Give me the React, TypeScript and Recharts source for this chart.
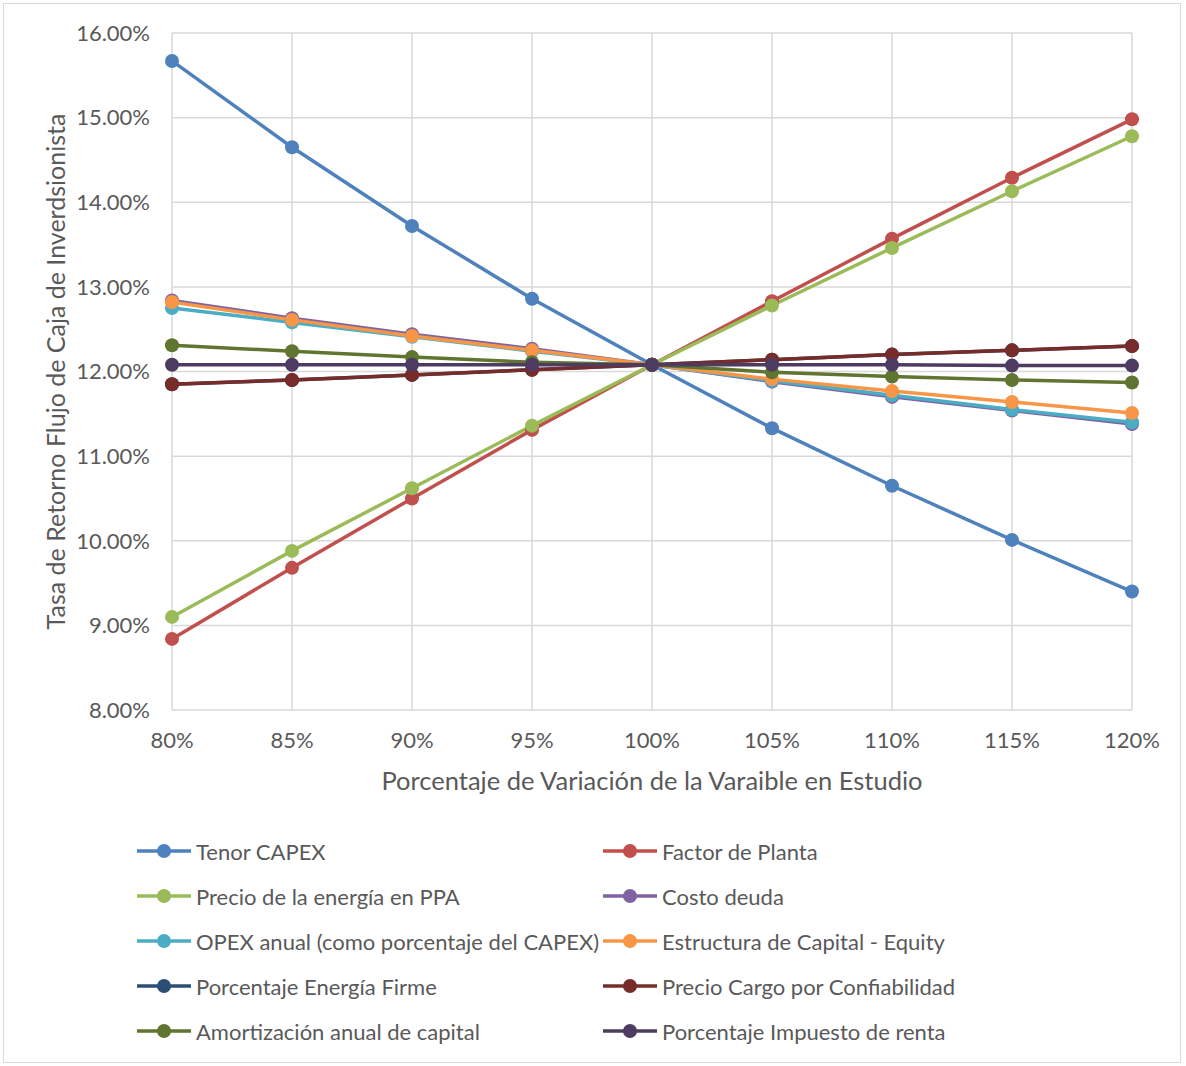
import { CartesianGrid, Label, Legend, Line, LineChart, XAxis, YAxis } from 'recharts'

// Variación porcentual de cada variable en estudio
const categories = ['80%', '85%', '90%', '95%', '100%', '105%', '110%', '115%', '120%']

const tenorCapex = [15.67, 14.65, 13.72, 12.86, 12.08, 11.33, 10.65, 10.01, 9.4]
const factorPlanta = [8.84, 9.68, 10.5, 11.31, 12.08, 12.83, 13.57, 14.29, 14.98]
const precioPPA = [9.1, 9.88, 10.62, 11.36, 12.08, 12.78, 13.46, 14.13, 14.78]
const costoDeuda = [12.84, 12.63, 12.44, 12.27, 12.08, 11.88, 11.7, 11.54, 11.38]
const opexAnual = [12.75, 12.58, 12.41, 12.24, 12.08, 11.89, 11.72, 11.55, 11.4]
const estructuraCapital = [12.82, 12.61, 12.42, 12.25, 12.08, 11.91, 11.77, 11.64, 11.51]
const energiaFirme = [11.85, 11.9, 11.96, 12.02, 12.08, 12.14, 12.2, 12.25, 12.3]
const cargoConfiabilidad = [11.85, 11.9, 11.96, 12.02, 12.08, 12.14, 12.2, 12.25, 12.3]
const amortizacion = [12.31, 12.24, 12.17, 12.11, 12.08, 11.99, 11.94, 11.9, 11.87]
const impuestoRenta = [12.08, 12.08, 12.08, 12.08, 12.08, 12.08, 12.08, 12.07, 12.07]

const yTicks = [8, 9, 10, 11, 12, 13, 14, 15, 16]

const series = [
  { key: 'tenor', name: 'Tenor CAPEX', color: '#4F81BD', values: tenorCapex },
  { key: 'factor', name: 'Factor de Planta', color: '#C0504D', values: factorPlanta },
  { key: 'ppa', name: 'Precio de la energía en PPA', color: '#9BBB59', values: precioPPA },
  { key: 'deuda', name: 'Costo deuda', color: '#8064A2', values: costoDeuda },
  { key: 'opex', name: 'OPEX anual (como porcentaje del CAPEX)', color: '#4BACC6', values: opexAnual },
  { key: 'equity', name: 'Estructura de Capital - Equity', color: '#F79646', values: estructuraCapital },
  { key: 'firme', name: 'Porcentaje Energía Firme', color: '#2C4D75', values: energiaFirme },
  { key: 'cargo', name: 'Precio Cargo por Confiabilidad', color: '#772C2A', values: cargoConfiabilidad },
  { key: 'amort', name: 'Amortización anual de capital', color: '#5F7530', values: amortizacion },
  { key: 'renta', name: 'Porcentaje Impuesto de renta', color: '#4D3B62', values: impuestoRenta },
]

const data = categories.map((cat, i) => {
  const row: Record<string, string | number> = { cat }
  series.forEach((s) => {
    row[s.key] = s.values[i]
  })
  return row
})

const FONT = 'Lato, "Open Sans", sans-serif'
const TEXT = '#595959'

const LegendGrid = () => (
  <div style={{ position: 'relative', width: 1176, height: 272, fontFamily: FONT }}>
    {series.map((s, i) => {
      const col = i % 2
      const row = Math.floor(i / 2)
      return (
        <div
          key={s.key}
          style={{
            position: 'absolute',
            left: col === 0 ? 133 : 599,
            top: 61 + row * 45 - 15,
            height: 30,
            display: 'flex',
            alignItems: 'center',
            whiteSpace: 'nowrap',
          }}
        >
          <svg width={54} height={16} style={{ marginRight: 5 }}>
            <line x1={0} y1={8} x2={54} y2={8} stroke={s.color} strokeWidth={3.5} />
            <circle cx={27} cy={8} r={7} fill={s.color} />
          </svg>
          <span style={{ fontSize: 22, color: TEXT }}>{s.name}</span>
        </div>
      )
    })}
  </div>
)

export default function App() {
  return (
    <div
      style={{
        position: 'absolute',
        left: 3,
        top: 3,
        width: 1176,
        height: 1058,
        border: '1px solid #d9d9d9',
        background: '#fff',
      }}
    >
      <LineChart
        width={1176}
        height={1058}
        data={data}
        margin={{ top: 29, right: 48, bottom: 0, left: 0 }}
        style={{ fontFamily: FONT }}
      >
        <CartesianGrid stroke="#d9d9d9" strokeWidth={1.5} />
        <XAxis
          dataKey="cat"
          axisLine={false}
          tickLine={false}
          height={80}
          tickMargin={16}
          tick={{ fill: TEXT, fontSize: 22 }}
          interval={0}
        >
          <Label
            content={({ viewBox }: any) => (
              <text
                x={viewBox.x + viewBox.width / 2}
                y={viewBox.y + 80}
                textAnchor="middle"
                fill={TEXT}
                fontSize={25.5}
              >
                Porcentaje de Variación de la Varaible en Estudio
              </text>
            )}
          />
        </XAxis>
        <YAxis
          type="number"
          domain={[8, 16]}
          ticks={yTicks}
          axisLine={false}
          tickLine={false}
          width={168}
          tickMargin={16}
          tick={{ fill: TEXT, fontSize: 22 }}
          tickFormatter={(v: number) => `${v.toFixed(2)}%`}
        >
          <Label
            content={({ viewBox }: any) => {
              const cx = 51
              const cy = viewBox.y + viewBox.height / 2
              return (
                <text
                  x={cx}
                  y={cy}
                  transform={`rotate(-90 ${cx} ${cy})`}
                  textAnchor="middle"
                  dominantBaseline="central"
                  fill={TEXT}
                  fontSize={25}
                >
                  Tasa de Retorno Flujo de Caja de Inverdsionista
                </text>
              )
            }}
          />
        </YAxis>
        <Legend
          verticalAlign="bottom"
          content={() => <LegendGrid />}
          wrapperStyle={{ left: 0, width: 1176, height: 272 }}
        />
        {series.map((s) => (
          <Line
            key={s.key}
            dataKey={s.key}
            name={s.name}
            stroke={s.color}
            strokeWidth={3.5}
            dot={{ r: 7, fill: s.color, stroke: s.color, strokeWidth: 0 }}
            activeDot={false}
            isAnimationActive={false}
          />
        ))}
      </LineChart>
    </div>
  )
}
